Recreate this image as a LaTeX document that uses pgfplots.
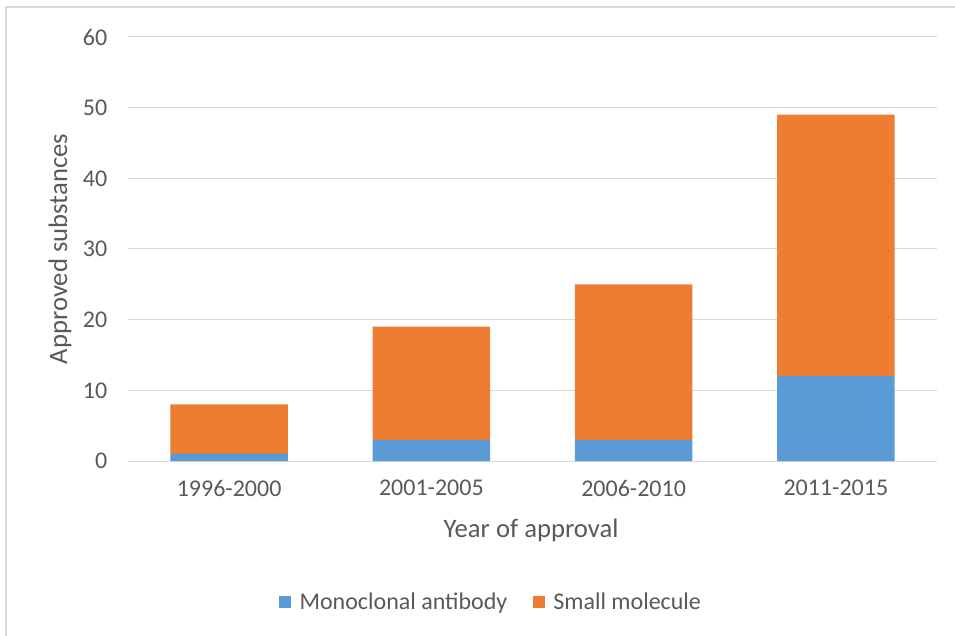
\documentclass[border=0pt]{standalone}
\usepackage{fontspec}
\setmainfont{Carlito}
\usepackage{pgfplots}
\pgfplotsset{compat=1.18}
\definecolor{monoColor}{HTML}{5B9BD5}
\definecolor{smallColor}{HTML}{ED7D31}
\definecolor{GridColor}{HTML}{D9D9D9}
\definecolor{TextColor}{HTML}{595959}
\definecolor{FrameColor}{HTML}{D9D9D9}

\begin{document}
\begin{tikzpicture}
% page is 955x635 px, 1px = 0.75pt
\path[use as bounding box] (0pt,0pt) rectangle (716.25pt,476.25pt);
\draw[FrameColor,line width=1.2pt] (4.5pt,-8pt) -- (4.5pt,471pt) -- (724pt,471pt);
\begin{axis}[
  at={(96pt,130.5pt)}, anchor=south west,
  scale only axis, width=606.75pt, height=318pt,
  ybar stacked, bar width=0.58,
  xmin=-0.5, xmax=3.5, ymin=0, ymax=60,
  xtick={0,1,2,3},
  xticklabels={1996-2000,2001-2005,2006-2010,2011-2015},
  ytick={0,10,...,60},
  ymajorgrids,
  grid style={draw=GridColor,line width=0.75pt},
  axis line style={draw=none},
  major tick length=0pt,
  tick label style={font=\fontsize{18}{20}\selectfont, text=TextColor},
  /pgf/number format/assume math mode=true,
  yticklabel style={xshift=-12pt},
  xticklabel style={yshift=-11pt},
  legend style={at={(axis description cs:0.449,-0.3325)},anchor=center,draw=none,
    legend columns=2,font={\fontsize{18}{20}\selectfont\color{TextColor}},
    /tikz/every even column/.append style={column sep=17pt}},
  legend image code/.code={\fill[#1] (0pt,-4.5pt) rectangle (9pt,4.5pt);
    \path (0pt,0pt) -- (13.5pt,0pt);},
]
\addplot[fill=monoColor,draw=none] coordinates {(0,1) (1,3) (2,3) (3,12)};
\addplot[fill=smallColor,draw=none] coordinates {(0,7) (1,16) (2,22) (3,37)};
\legend{Monoclonal antibody,Small molecule}
\end{axis}
\node[rotate=90,font=\fontsize{20}{24}\selectfont,text=TextColor] at (45pt,289.5pt) {Approved substances};
\node[font=\fontsize{20}{24}\selectfont,text=TextColor] at (398.25pt,78.75pt) {Year of approval};
\end{tikzpicture}
\end{document}
